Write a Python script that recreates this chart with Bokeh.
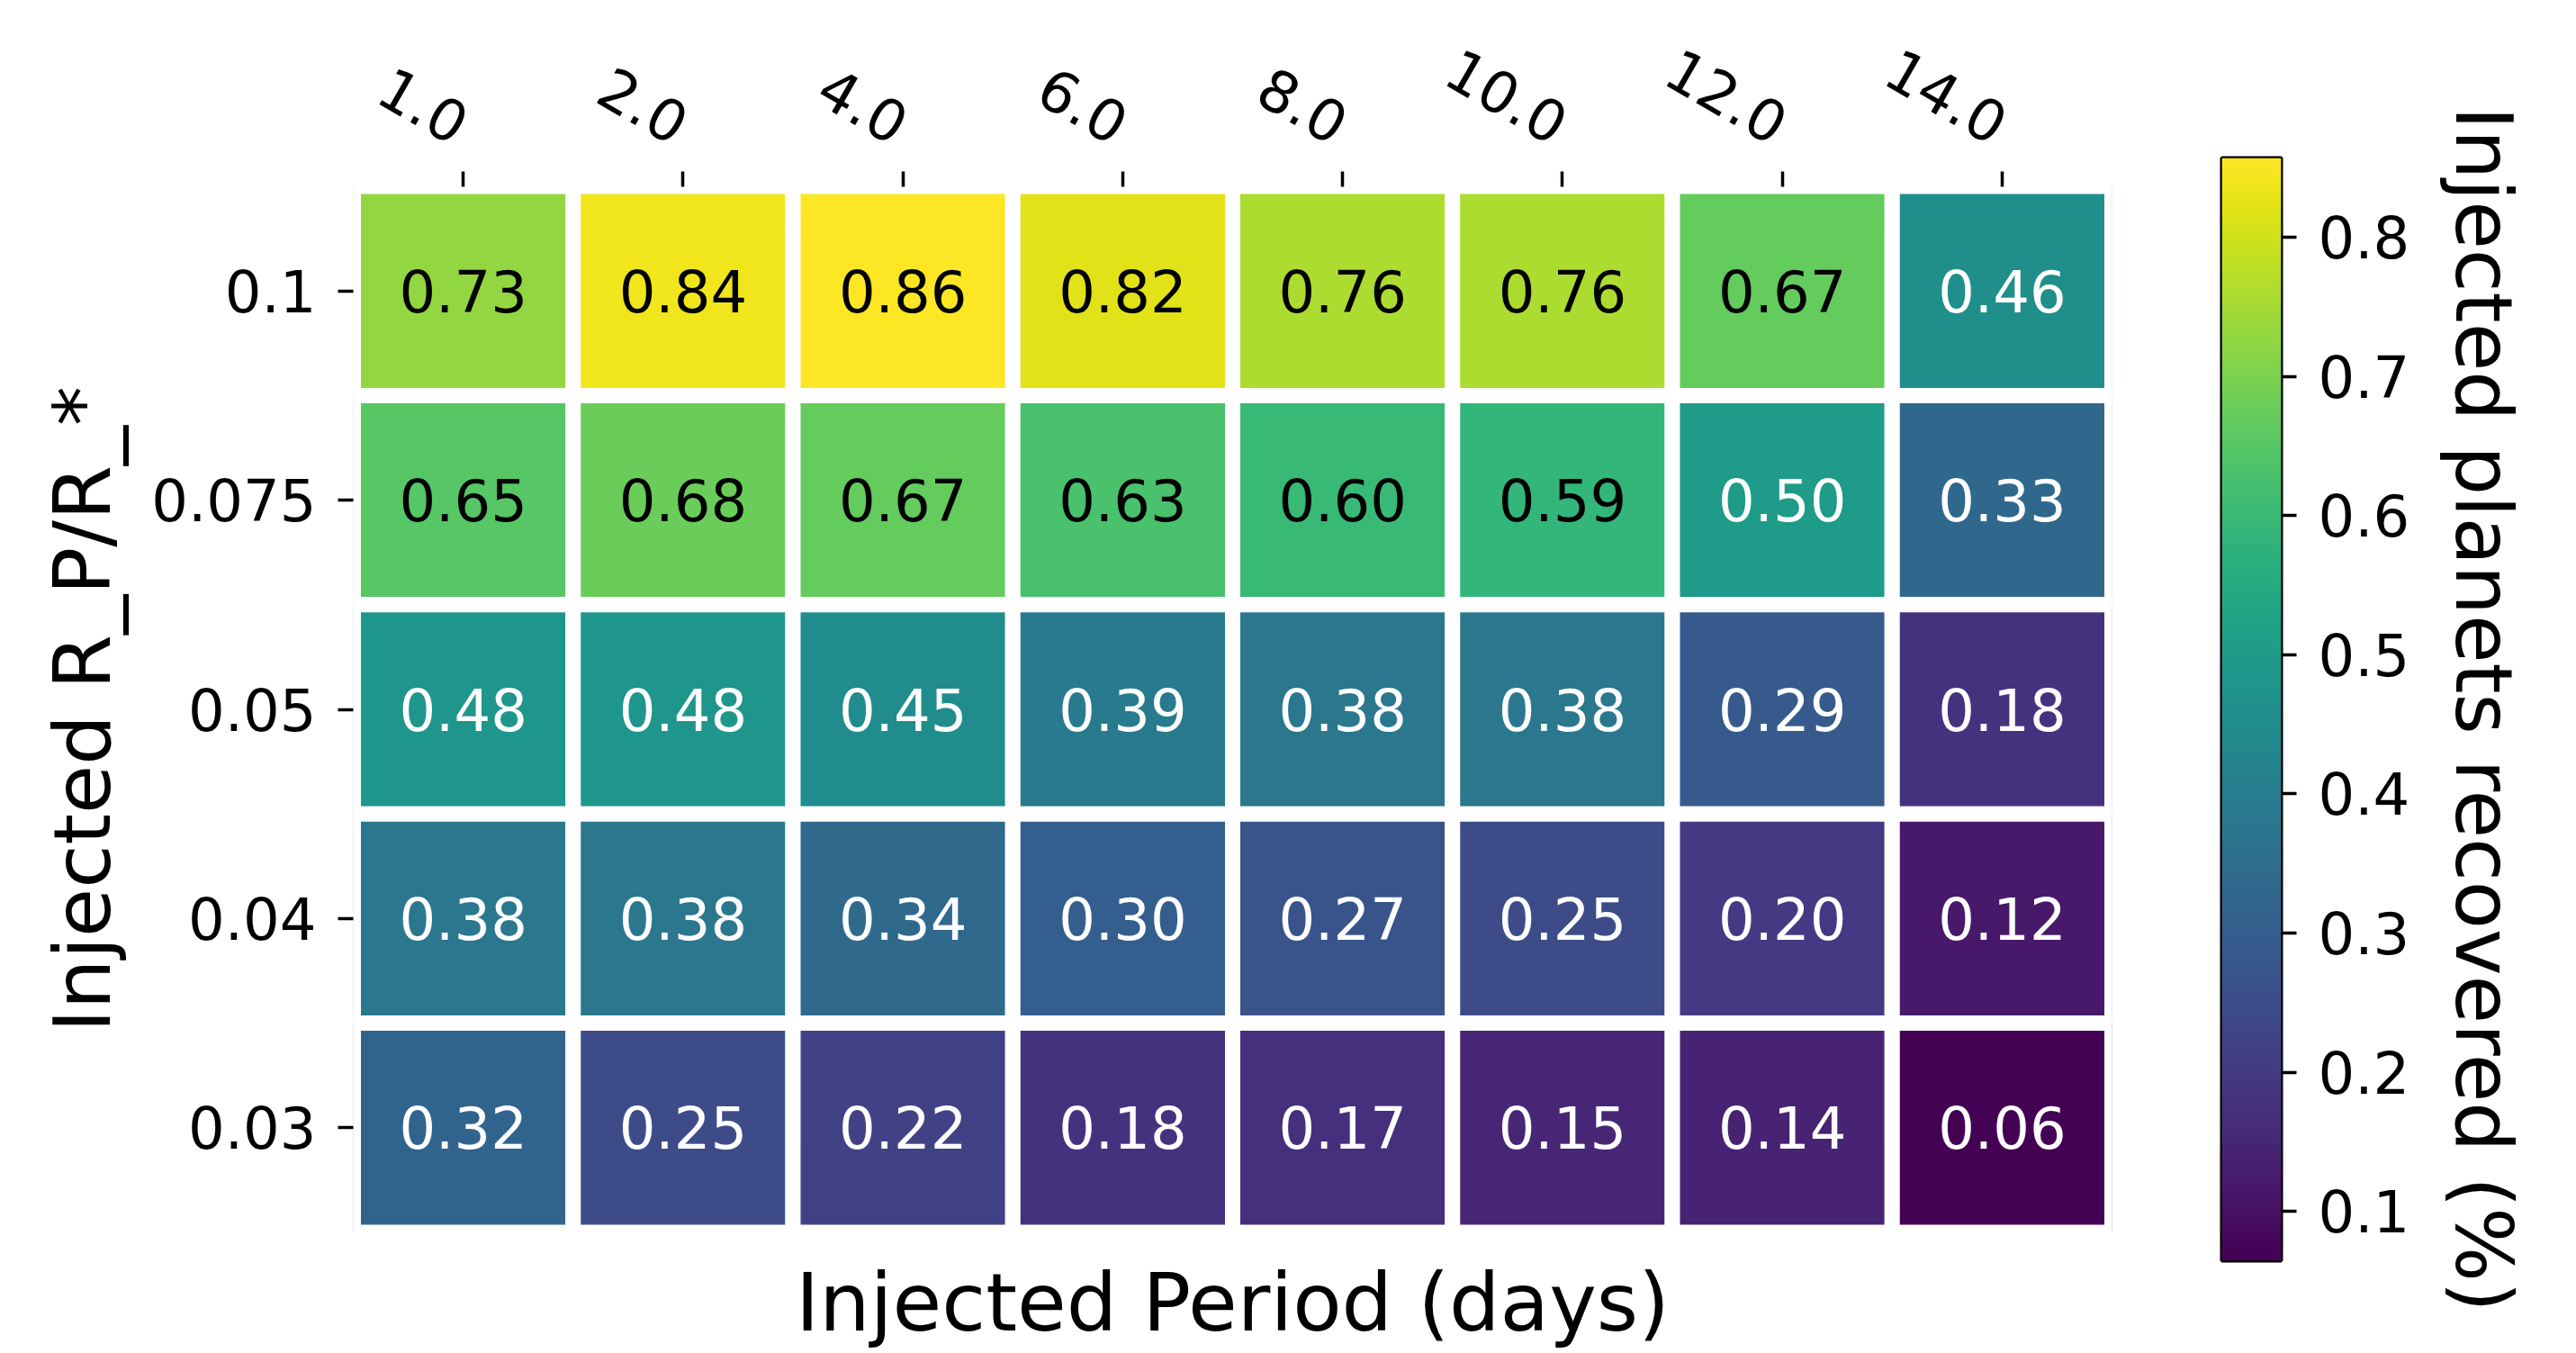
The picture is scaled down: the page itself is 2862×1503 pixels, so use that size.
import math
import numpy as np
from bokeh.plotting import figure
from bokeh.models import (ColumnDataSource, LinearColorMapper, Range1d,
                          FactorRange, LinearAxis, FixedTicker)
from bokeh.palettes import Viridis256
from bokeh.transform import transform
from bokeh.layouts import row
from bokeh.embed import file_html
from bokeh.resources import INLINE
from bokeh.core.properties import value

# ---------------- data ----------------
periods = ["1.0", "2.0", "4.0", "6.0", "8.0", "10.0", "12.0", "14.0"]
radii = ["0.1", "0.075", "0.05", "0.04", "0.03"]          # top -> bottom
rec_r0100 = [0.73, 0.84, 0.86, 0.82, 0.76, 0.76, 0.67, 0.46]
rec_r0075 = [0.65, 0.68, 0.67, 0.63, 0.60, 0.59, 0.50, 0.33]
rec_r0050 = [0.48, 0.48, 0.45, 0.39, 0.38, 0.38, 0.29, 0.18]
rec_r0040 = [0.38, 0.38, 0.34, 0.30, 0.27, 0.25, 0.20, 0.12]
rec_r0030 = [0.32, 0.25, 0.22, 0.18, 0.17, 0.15, 0.14, 0.06]
recovery_rows = [rec_r0100, rec_r0075, rec_r0050, rec_r0040, rec_r0030]

cbar_ticks = [0.1, 0.2, 0.3, 0.4, 0.5, 0.6, 0.7, 0.8]
cbar_low, cbar_high = 0.0646, 0.857

x_label = "Injected Period (days)"
y_label = "Injected R_P/R_*"
cbar_label = "Injected planets recovered (%)"

FONT = "DejaVu Sans"

# ---------------- table ----------------
xs, ys, vals, labels, tcolors = [], [], [], [], []
for r, rowvals in zip(radii, recovery_rows):
    for per, v in zip(periods, rowvals):
        xs.append(per)
        ys.append(r)
        vals.append(v)
        labels.append(f"{v:.2f}")
        tcolors.append("black" if v >= 0.55 else "white")

src = ColumnDataSource(dict(period=xs, radius=ys, value=vals, label=labels, tcolor=tcolors))
mapper = LinearColorMapper(palette=Viridis256, low=cbar_low, high=cbar_high)

TOP, BOTTOM = 175, 103

# ---------------- main heatmap ----------------
p = figure(width=2400, height=1503,
           x_range=FactorRange(factors=periods),
           y_range=FactorRange(factors=radii[::-1], range_padding=0.1355,
                               range_padding_units="absolute"),
           x_axis_location="above",
           output_backend="svg", toolbar_location=None,
           min_border_left=392, min_border_right=54,
           min_border_top=TOP, min_border_bottom=BOTTOM)
p.outline_line_color = None
p.grid.visible = False
p.background_fill_color = "white"
p.border_fill_color = "white"

p.rect(x="period", y="radius", width=1, height=1, source=src,
       fill_color=transform("value", mapper),
       line_color="white", line_width=17)
p.text(x="period", y="radius", text="label", source=src,
       text_align="center", text_baseline="middle",
       text_font=value(FONT), text_font_size="64px", text_color="tcolor")

for ax in (p.xaxis[0], p.yaxis[0]):
    ax.axis_line_color = None
    ax.major_tick_line_width = 3.5
    ax.major_tick_line_color = "black"
    ax.major_label_text_font = FONT
    ax.major_label_text_font_size = "64px"
    ax.major_label_text_color = "black"

top = p.xaxis[0]
top.major_tick_in = 32
top.major_tick_out = -15
top.major_label_orientation = -math.pi / 6
top.major_label_standoff = 33

left = p.yaxis[0]
left.major_tick_in = 0
left.major_tick_out = 17
left.major_label_standoff = 24
left.axis_label = y_label
left.axis_label_text_font = FONT
left.axis_label_text_font_size = "88px"
left.axis_label_text_font_style = "normal"
left.axis_label_text_color = "black"
left.axis_label_standoff = 22

bottom = LinearAxis(ticker=FixedTicker(ticks=[]), axis_label=x_label)
bottom.axis_line_color = None
bottom.major_tick_line_color = None
bottom.minor_tick_line_color = None
bottom.major_label_standoff = 0
bottom.axis_label_standoff = -6
bottom.axis_label_text_font = FONT
bottom.axis_label_text_font_size = "89px"
bottom.axis_label_text_font_style = "normal"
bottom.axis_label_text_color = "black"
p.add_layout(bottom, "below")

# ---------------- colour bar ----------------
p2 = figure(width=462, height=1503,
            x_range=Range1d(0, 1), y_range=Range1d(cbar_low, cbar_high),
            x_axis_location=None, y_axis_location="right",
            output_backend="svg", toolbar_location=None,
            min_border_left=68, min_border_right=328,
            min_border_top=TOP, min_border_bottom=BOTTOM)
p2.grid.visible = False
p2.outline_line_color = "black"
p2.outline_line_width = 4
p2.border_fill_color = "white"
grad = np.linspace(cbar_low, cbar_high, 512).reshape(512, 1)
p2.image(image=[grad], x=0, y=cbar_low, dw=1, dh=cbar_high - cbar_low,
         color_mapper=mapper)

cax = p2.yaxis[0]
cax.ticker = FixedTicker(ticks=cbar_ticks)
cax.axis_line_color = None
cax.major_tick_in = 0
cax.major_tick_out = 17
cax.major_tick_line_width = 3.5
cax.major_tick_line_color = "black"
cax.minor_tick_line_color = None
cax.major_label_text_font = FONT
cax.major_label_text_font_size = "64px"
cax.major_label_text_color = "black"
cax.major_label_standoff = 24
cax.axis_label = cbar_label
cax.axis_label_text_font = FONT
cax.axis_label_text_font_size = "87px"
cax.axis_label_text_font_style = "normal"
cax.axis_label_text_color = "black"
cax.axis_label_standoff = 28

layout = row(p, p2)
open("out.html", "w").write(file_html(layout, INLINE))
